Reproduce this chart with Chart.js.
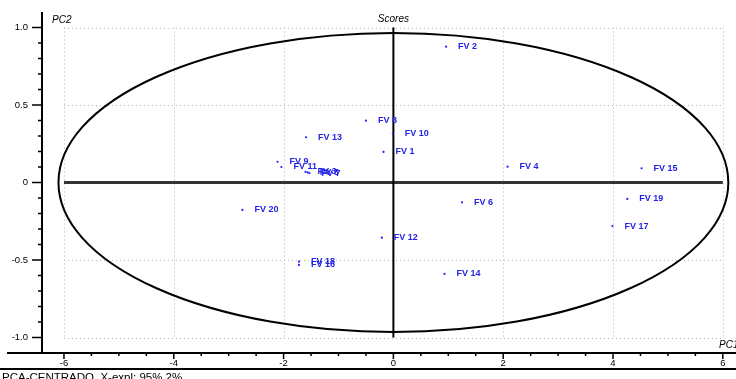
<!DOCTYPE html>
<html>
<head>
<meta charset="utf-8">
<script src="https://cdn.jsdelivr.net/npm/chart.js@4"></script>
<style>
  body { margin: 0; background: #fff; }
  canvas { display: block; }
</style>
</head>
<body>
<canvas id="scores" width="736" height="379"></canvas>
<script>
const sampleNames = ["FV 1", "FV 2", "FV 3", "FV 4", "FV 5", "FV 6", "FV 7", "FV 8", "FV 9", "FV 10",
  "FV 11", "FV 12", "FV 13", "FV 14", "FV 15", "FV 16", "FV 17", "FV 18", "FV 19", "FV 20"];
const pc1 = [-0.18, 0.96, -1.60, 2.08, -1.56, 1.25, -1.53, -0.50, -2.11, -0.01,
  -2.04, -0.21, -1.59, 0.93, 4.52, -1.72, 3.99, -1.72, 4.26, -2.75];
const pc2 = [0.197, 0.876, 0.068, 0.102, 0.065, -0.128, 0.061, 0.399, 0.134, 0.317,
  0.100, -0.356, 0.292, -0.590, 0.092, -0.532, -0.281, -0.511, -0.106, -0.177];

const xTickValues = [-6, -4, -2, 0, 2, 4, 6];
const yTickValues = [-1, -0.5, 0, 0.5, 1];
const ellipseRadii = [6.1, 0.965];   // PC1, PC2 half axes
const axisLineH = [{ x: -6, y: 0 }, { x: 6, y: 0 }];
const axisLineV = [{ x: 0, y: -1 }, { x: 0, y: 1 }];

const FONT = 'Arial, "Liberation Sans", sans-serif';

const decor = {
  id: "decor",
  beforeDatasetsDraw(chart) {
    const { ctx, scales: { x, y } } = chart;
    ctx.save();
    // dotted grid limited to the -6..6 / -1..1 box
    ctx.strokeStyle = "#b4b4b4";
    ctx.lineWidth = 1;
    ctx.setLineDash([1, 3]);
    const gx0 = x.getPixelForValue(-6), gx1 = x.getPixelForValue(6);
    const gy0 = y.getPixelForValue(1), gy1 = y.getPixelForValue(-1);
    xTickValues.forEach(v => {
      const px = Math.round(x.getPixelForValue(v)) + 0.5;
      ctx.beginPath(); ctx.moveTo(px, gy0); ctx.lineTo(px, gy1); ctx.stroke();
    });
    yTickValues.forEach(v => {
      const py = Math.round(y.getPixelForValue(v)) + 0.5;
      ctx.beginPath(); ctx.moveTo(gx0, py); ctx.lineTo(gx1, py); ctx.stroke();
    });
    ctx.setLineDash([]);
    // confidence ellipse
    const cx = x.getPixelForValue(0), cy = y.getPixelForValue(0);
    const rx = x.getPixelForValue(ellipseRadii[0]) - cx;
    const ry = cy - y.getPixelForValue(ellipseRadii[1]);
    ctx.strokeStyle = "#000";
    ctx.lineWidth = 2;
    ctx.beginPath();
    ctx.ellipse(cx, cy, rx, ry, 0, 0, Math.PI * 2);
    ctx.stroke();
    ctx.restore();
  },
  afterDatasetsDraw(chart) {
    const { ctx } = chart;
    const meta = chart.getDatasetMeta(0);
    ctx.save();
    ctx.fillStyle = "#2424e6";
    ctx.font = "bold 9px " + FONT;
    ctx.textBaseline = "middle";
    meta.data.forEach((pt, i) => {
      ctx.fillText(sampleNames[i], pt.x + 12, pt.y);
    });
    ctx.restore();
  },
  afterDraw(chart) {
    const { ctx, chartArea: area, scales: { x, y } } = chart;
    ctx.save();
    ctx.strokeStyle = "#000";
    ctx.lineWidth = 2;
    // axis lines
    ctx.beginPath();
    ctx.moveTo(area.left, area.top);
    ctx.lineTo(area.left, area.bottom);
    ctx.moveTo(7, area.bottom);
    ctx.lineTo(chart.width, area.bottom);
    ctx.stroke();
    // line under the x tick labels
    ctx.beginPath();
    ctx.moveTo(0, 369);
    ctx.lineTo(chart.width, 369);
    ctx.stroke();
    // tick marks
    ctx.lineWidth = 1.5;
    ctx.beginPath();
    for (let k = -10; k <= 10; k++) {
      const py = y.getPixelForValue(k / 10);
      const len = k % 5 === 0 ? 10 : 4;
      ctx.moveTo(area.left - len, py);
      ctx.lineTo(area.left, py);
    }
    for (let k = -12; k <= 12; k++) {
      const px = x.getPixelForValue(k / 2);
      const len = k % 4 === 0 ? 6 : 3;
      ctx.moveTo(px, area.bottom);
      ctx.lineTo(px, area.bottom + len);
    }
    ctx.stroke();
    // titles
    ctx.fillStyle = "#000";
    ctx.font = "italic 10px " + FONT;
    ctx.textBaseline = "middle";
    ctx.textAlign = "center";
    ctx.fillText("Scores", x.getPixelForValue(0), 19);
    ctx.textAlign = "left";
    ctx.fillText("PC2", 52, 20);
    ctx.fillText("PC1", 719, 345);
    ctx.font = "11.5px " + FONT;
    ctx.textBaseline = "alphabetic";
    ctx.fillText("PCA-CENTRADO, X-expl: 95%,2%", 2, 381);
    ctx.restore();
  }
};

new Chart(document.getElementById("scores"), {
  type: "scatter",
  data: {
    datasets: [
      {
        data: pc1.map((v, i) => ({ x: v, y: pc2[i] })),
        pointRadius: 1.1,
        pointHoverRadius: 1.1,
        pointBorderWidth: 0,
        pointBackgroundColor: "#2020ff"
      },
      {
        data: axisLineV,
        showLine: true,
        borderColor: "#000",
        borderWidth: 2,
        pointRadius: 0
      },
      {
        data: axisLineH,
        showLine: true,
        borderColor: "#333",
        borderWidth: 3,
        pointRadius: 0
      }
    ]
  },
  options: {
    responsive: false,
    animation: false,
    devicePixelRatio: 1,
    layout: { padding: { top: 12, left: 0, right: 0, bottom: 0 } },
    plugins: { legend: { display: false }, tooltip: { enabled: false } },
    scales: {
      x: {
        type: "linear",
        min: -6.4,
        max: 6.22,
        afterBuildTicks: s => { s.ticks = xTickValues.map(v => ({ value: v })); },
        afterFit: s => { s.height = 26; s.paddingLeft = 0; s.paddingRight = 0; },
        grid: { display: false, drawTicks: false },
        border: { display: false },
        ticks: {
          padding: 5,
          maxRotation: 0,
          color: "#000",
          font: { family: FONT, size: 9.5 },
          callback: v => String(v)
        }
      },
      y: {
        type: "linear",
        min: -1.1,
        max: 1.1,
        afterBuildTicks: s => { s.ticks = yTickValues.map(v => ({ value: v })); },
        afterFit: s => { s.width = 42; s.paddingTop = 0; s.paddingBottom = 0; },
        grid: { display: false, drawTicks: false },
        border: { display: false },
        ticks: {
          padding: 14,
          color: "#000",
          font: { family: FONT, size: 9.5 },
          callback: v => (v === 0 ? "0" : v.toFixed(1))
        }
      }
    }
  },
  plugins: [decor]
});
</script>
</body>
</html>
